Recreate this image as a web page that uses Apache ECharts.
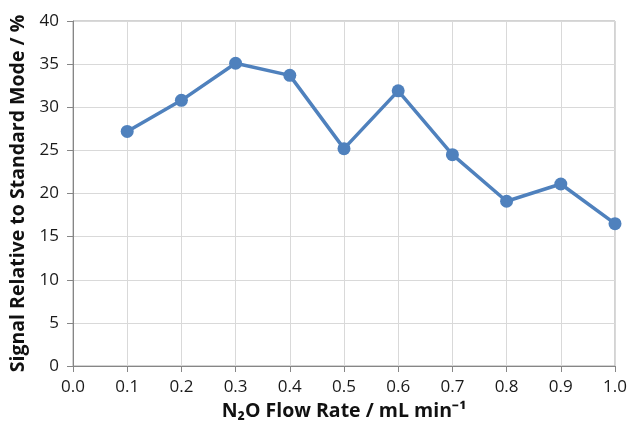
<!DOCTYPE html>
<html><head><meta charset="utf-8">
<script src="https://cdn.jsdelivr.net/npm/echarts@6/dist/echarts.min.js"></script>
<style>html,body{margin:0;padding:0;background:#fff}#c{width:631px;height:424px}</style>
</head><body><div id="c"></div>
<script>
const flowRates = [0.1, 0.2, 0.3, 0.4, 0.5, 0.6, 0.7, 0.8, 0.9, 1.0];
const signalPct = [27.2, 30.8, 35.1, 33.7, 25.2, 31.9, 24.5, 19.1, 21.1, 16.5];
const xTitle = 'N₂O Flow Rate / mL min⁻¹';
const yTitle = 'Signal Relative to Standard Mode / %';

const chart = echarts.init(document.getElementById('c'), null, {renderer: 'canvas'});
const font = 'Open Sans';
chart.setOption({
  animation: false,
  grid: {left: 73, right: 16, top: 21, bottom: 58, containLabel: false,
    outerBoundsMode: 'none',
    show: true, borderColor: '#a6a6a6', borderWidth: 1},
  xAxis: {
    type: 'value', min: 0, max: 1, interval: 0.1,
    name: xTitle, nameLocation: 'middle', nameGap: 35,
    nameTextStyle: {fontFamily: font, fontWeight: 'bold', fontSize: 19.5, color: '#111'},
    axisLine: {show: true, lineStyle: {color: '#868686', width: 1}},
    axisTick: {show: true, length: 6, lineStyle: {color: '#868686'}},
    axisLabel: {fontFamily: font, fontSize: 17, color: '#1a1a1a', margin: 13,
      formatter: v => v.toFixed(1)},
    splitLine: {show: true, lineStyle: {color: '#d9d9d9', width: 1}}
  },
  yAxis: {
    type: 'value', min: 0, max: 40, interval: 5,
    name: yTitle, nameLocation: 'middle', nameGap: 38, nameRotate: 90,
    nameTextStyle: {fontFamily: font, fontWeight: 'bold', fontSize: 19.5, color: '#111'},
    axisLine: {show: true, lineStyle: {color: '#868686', width: 1}},
    axisTick: {show: true, length: 6, lineStyle: {color: '#868686'}},
    axisLabel: {fontFamily: font, fontSize: 17, color: '#1a1a1a', margin: 14},
    splitLine: {show: true, lineStyle: {color: '#d9d9d9', width: 1}}
  },
  series: [{
    type: 'line',
    data: flowRates.map((x, i) => [x, signalPct[i]]),
    symbol: 'circle', symbolSize: 13,
    lineStyle: {color: '#4F81BD', width: 3.5},
    itemStyle: {color: '#4F81BD'},
    clip: false
  }]
});
</script></body></html>
